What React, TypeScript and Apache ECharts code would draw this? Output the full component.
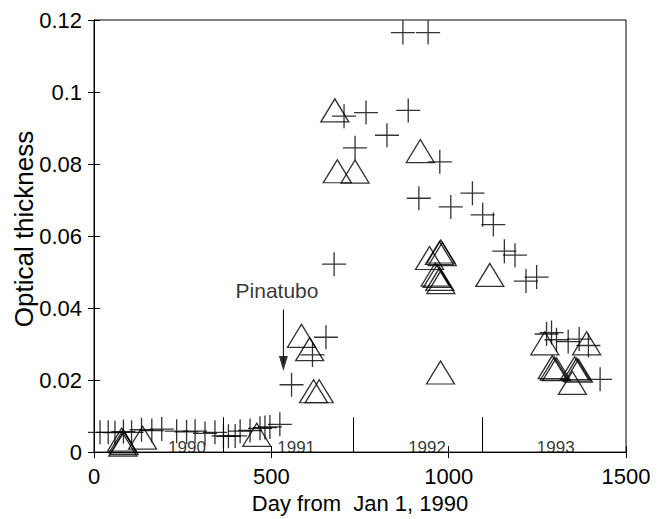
import React, { useEffect, useRef } from 'react';
import * as echarts from 'echarts';

// Low-level (pre-Pinatubo) measurement crosses
const lowCrossDays = [17, 40, 59, 83, 106, 134, 163, 191, 233, 261, 285, 313, 341, 365, 379, 398, 412, 440, 468, 482, 496, 524];
const lowCrossVals = [0.0055, 0.0055, 0.0054, 0.0057, 0.0055, 0.0062, 0.006, 0.0064, 0.0058, 0.0056, 0.0058, 0.0052, 0.0055, 0.0045, 0.0044, 0.0045, 0.0058, 0.006, 0.0066, 0.0068, 0.007, 0.0077];

// Post-eruption crosses
const crossDays = [557, 616, 654, 677, 705, 736, 767, 826, 871, 886, 916, 942, 975, 1006, 1067, 1096, 1126, 1157, 1187, 1218, 1248, 1276, 1290, 1304, 1337, 1368, 1394, 1427];
const crossVals = [0.0187, 0.027, 0.0319, 0.0522, 0.0933, 0.0845, 0.0943, 0.088, 0.1165, 0.0949, 0.0705, 0.1165, 0.0806, 0.0681, 0.0719, 0.0659, 0.0632, 0.0558, 0.0547, 0.0475, 0.0486, 0.0328, 0.0332, 0.0312, 0.0307, 0.0314, 0.0296, 0.0202];

// Triangles
const triDays = [78, 82, 85, 81, 137, 459, 585, 608, 619, 635, 679, 686, 736, 920, 946, 974, 978, 982, 962, 968, 975, 978, 977, 1116, 1271, 1389, 1292, 1298, 1304, 1355, 1361, 1366, 1349];
const triVals = [0.0035, 0.003, 0.0025, 0.0021, 0.004, 0.0048, 0.0323, 0.0286, 0.0169, 0.0169, 0.0949, 0.078, 0.0779, 0.0836, 0.0539, 0.0553, 0.0557, 0.055, 0.0493, 0.0489, 0.0481, 0.0472, 0.0221, 0.0492, 0.0302, 0.0302, 0.0236, 0.0232, 0.023, 0.0233, 0.0229, 0.0226, 0.0192];

// Year separators and labels
const yearLineDays = [365, 731, 1096];
const yearLineTop = 0.0097;
const yearLabels = ['1990', '1991', '1992', '1993'];
const yearLabelDays = [262, 570, 939, 1302];
const yearLabelVal = 0.0012;

// Pinatubo annotation
const pinatuboText = 'Pinatubo';
const pinatuboTextPos = [516, 0.0448];
const pinatuboDay = 534;
const arrowTop = 0.0396;
const arrowHeadVal = 0.0246;

const xTicks = [0, 1500, 500];
const yTicks = [0, 0.12, 0.02];

const FONT = 'Liberation Sans, Arial, Helvetica, sans-serif';

export default function App() {
  const ref = useRef<HTMLDivElement>(null);
  useEffect(() => {
    document.body.style.margin = '0';
    const chart = echarts.init(ref.current!, null, { renderer: 'svg' });
    const crossSymbol = 'path://M1,0 L1,2 M0,1 L2,1';
    const crossStyle = { color: 'none', borderColor: '#000', borderWidth: 1.3 };
    const axisCommon = {
      axisLine: { show: true, lineStyle: { color: '#000', width: 1 } },
      axisTick: { show: true, inside: true, length: 6, lineStyle: { color: '#000', width: 1 } },
      splitLine: { show: false },
    };
    chart.setOption({
      animation: false,
      backgroundColor: '#fff',
      grid: { left: 94, right: 40, top: 20, bottom: 52, show: true, borderColor: '#000', borderWidth: 1 },
      xAxis: [
        {
          type: 'value', min: xTicks[0], max: xTicks[1], interval: xTicks[2], ...axisCommon,
          axisLabel: { color: '#000', fontSize: 22, fontFamily: FONT, margin: 13, formatter: (v: number) => String(v) },
          name: 'Day from  Jan 1, 1990', nameLocation: 'middle', nameGap: 33,
          nameTextStyle: { color: '#000', fontSize: 22, fontFamily: FONT },
        },
        {
          type: 'value', position: 'top', min: xTicks[0], max: xTicks[1], interval: xTicks[2], ...axisCommon,
          axisLabel: { show: false },
        },
      ],
      yAxis: [
        {
          type: 'value', min: yTicks[0], max: yTicks[1], interval: yTicks[2], ...axisCommon,
          axisLabel: { color: '#000', fontSize: 22, fontFamily: FONT, margin: 12, formatter: (v: number) => String(v) },
        },
        {
          type: 'value', position: 'right', min: yTicks[0], max: yTicks[1], interval: yTicks[2], ...axisCommon,
          axisLabel: { show: false },
        },
      ],
      graphic: [
        {
          type: 'text', x: 24, y: 229, rotation: Math.PI / 2,
          style: { text: 'Optical thickness', font: `26px ${FONT}`, fill: '#000', align: 'center', verticalAlign: 'middle' },
        },
      ],
      series: [
        {
          type: 'scatter', symbol: crossSymbol, symbolSize: 24, itemStyle: crossStyle,
          data: lowCrossDays.map((d, i) => [d, lowCrossVals[i]]),
          markLine: {
            silent: true, symbol: ['none', 'none'], label: { show: false },
            lineStyle: { color: '#000', width: 1, type: 'solid' },
            data: yearLineDays.map((d) => [{ coord: [d, 0] }, { coord: [d, yearLineTop] }]),
          },
        },
        {
          type: 'scatter', symbol: crossSymbol, symbolSize: 24, itemStyle: crossStyle,
          data: crossDays.map((d, i) => [d, crossVals[i]]),
        },
        {
          type: 'scatter', symbol: 'triangle', symbolSize: [28, 23],
          itemStyle: { color: 'none', borderColor: '#000', borderWidth: 1.3 },
          data: triDays.map((d, i) => [d, triVals[i]]),
        },
        {
          type: 'line', symbol: 'none', lineStyle: { color: '#000', width: 1 },
          data: [[pinatuboDay, arrowTop], [pinatuboDay, arrowHeadVal]],
        },
        {
          type: 'scatter', symbol: 'triangle', symbolRotate: 180, symbolSize: [9, 15],
          itemStyle: { color: '#000' },
          data: [[pinatuboDay, arrowHeadVal]],
        },
        {
          type: 'scatter', symbolSize: 1, itemStyle: { color: 'transparent' },
          label: { show: true, position: 'inside', formatter: '{b}', color: '#000', fontSize: 17, fontFamily: FONT },
          data: yearLabels.map((t, i) => ({ name: t, value: [yearLabelDays[i], yearLabelVal] })),
        },
        {
          type: 'scatter', symbolSize: 1, itemStyle: { color: 'transparent' },
          label: { show: true, position: 'inside', formatter: '{b}', color: '#000', fontSize: 21, fontFamily: FONT },
          data: [{ name: pinatuboText, value: pinatuboTextPos }],
        },
      ],
    });
    return () => chart.dispose();
  }, []);
  return <div ref={ref} style={{ position: 'fixed', left: 0, top: 0, width: 666, height: 519 }} />;
}
